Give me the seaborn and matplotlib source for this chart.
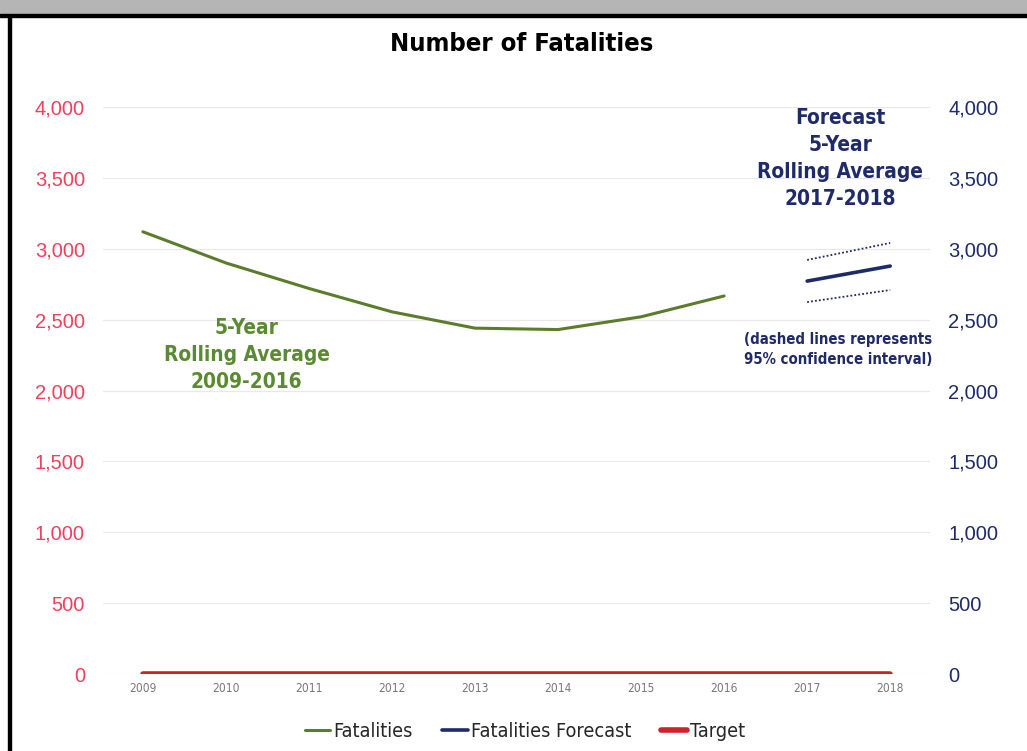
import matplotlib
matplotlib.use("Agg")
import matplotlib.pyplot as plt
from matplotlib import font_manager
from matplotlib.lines import Line2D
from matplotlib.patches import Rectangle
import numpy as np
import pandas as pd
import seaborn as sns

# data
years = [2009, 2010, 2011, 2012, 2013, 2014, 2015, 2016]
fatalities = [3120, 2900, 2720, 2555, 2440, 2430, 2520, 2667]
fc_years = [2017, 2018]
forecast = [2772, 2878]
fc_upper = [2921, 3041]
fc_lower = [2624, 2709]
target_years = [2009, 2010, 2011, 2012, 2013, 2014, 2015, 2016, 2017, 2018]
target = [0, 0, 0, 0, 0, 0, 0, 0, 0, 0]
yticks = [0, 500, 1000, 1500, 2000, 2500, 3000, 3500, 4000]

GREEN = "#5b7d2b"
GREEN_TXT = "#5a8a32"
NAVY = "#1f2a6b"
RED = "#d0202a"
RED_TXT = "#f0405c"

sns.set_style("white")
plt.rcParams["font.family"] = ["Liberation Sans", "DejaVu Sans"]

# narrow face if one is installed, else plain sans
names = {f.name for f in font_manager.fontManager.ttflist}
cond = [f for f in font_manager.fontManager.ttflist
        if f.name in ("DejaVu Sans", "Liberation Sans Narrow") and
        ("Condensed" in f.fname or "Narrow" in f.fname)]
if "Liberation Sans Narrow" in names:
    NARROW = dict(family=["Liberation Sans Narrow", "DejaVu Sans"])
    SC = 1.0
elif cond:
    NARROW = dict(family=["DejaVu Sans"], stretch="condensed")
    SC = 0.95
else:
    NARROW = dict(family=["Liberation Sans", "DejaVu Sans"])
    SC = 0.85

fig = plt.figure(figsize=(10.27, 7.51), dpi=100)
ax = fig.add_axes([0.1003, 0.1025, 0.8053, 0.755])

df = pd.DataFrame({"year": years, "val": fatalities})
dfc = pd.DataFrame({"year": fc_years, "val": forecast, "up": fc_upper, "lo": fc_lower})
dft = pd.DataFrame({"year": target_years, "val": target})

for v in yticks:
    ax.axhline(v, color="#e8e8e8", lw=0.9, zorder=0)

sns.lineplot(data=dft, x="year", y="val", ax=ax, color=RED, lw=4, zorder=3)
sns.lineplot(data=df, x="year", y="val", ax=ax, color=GREEN, lw=2.2, zorder=4)
sns.lineplot(data=dfc, x="year", y="val", ax=ax, color=NAVY, lw=2.6, zorder=4)
sns.lineplot(data=dfc, x="year", y="up", ax=ax, color=NAVY, lw=1.3, ls=(0, (1, 1.2)), zorder=4)
sns.lineplot(data=dfc, x="year", y="lo", ax=ax, color=NAVY, lw=1.3, ls=(0, (1, 1.2)), zorder=4)

ax.set_xlim(2008.52, 2018.48)
ax.set_ylim(0, 4000)
ax.set_xticks(target_years)
ax.set_xticklabels([str(y) for y in target_years], fontsize=9 * SC, color="#777777", **NARROW)
ax.set_yticks(yticks)
ax.set_yticklabels([f"{v:,}" for v in yticks], fontsize=14.5, color=RED_TXT)
ax.tick_params(axis="y", length=0, pad=13)
ax.tick_params(axis="x", length=0, pad=6)
ax.set_xlabel("")
ax.set_ylabel("")
for s in ax.spines.values():
    s.set_visible(False)

ax2 = ax.twinx()
ax2.set_ylim(0, 4000)
ax2.set_yticks(yticks)
ax2.set_yticklabels([f"{v:,}" for v in yticks], fontsize=14.5, color=NAVY)
ax2.tick_params(axis="y", length=0, pad=13)
for s in ax2.spines.values():
    s.set_visible(False)

# annotations
ax.text(2010.25, 2250, "5-Year\nRolling Average\n2009-2016", ha="center", va="center",
        fontsize=15.7 * SC, fontweight="bold", color=GREEN_TXT, linespacing=1.42, **NARROW)
ax.text(2017.4, 3637, "Forecast\n5-Year\nRolling Average\n2017-2018", ha="center", va="center",
        fontsize=15.7 * SC, fontweight="bold", color=NAVY, linespacing=1.42, **NARROW)
ax.text(2017.37, 2290, "(dashed lines represents\n95% confidence interval)", ha="center",
        va="center", fontsize=11.3 * SC, fontweight="bold", color=NAVY, linespacing=1.4,
        **NARROW)

fig.text(0.508, 0.941, "Number of Fatalities", ha="center", va="center", fontsize=19.3 * SC,
         fontweight="bold", color="black", **NARROW)

handles = [Line2D([], [], color=GREEN, lw=2.2),
           Line2D([], [], color=NAVY, lw=2.6),
           Line2D([], [], color=RED, lw=4)]
prop = font_manager.FontProperties(size=15 * SC, weight="medium", **NARROW)
leg = fig.legend(handles, ["Fatalities", "Fatalities Forecast", "Target"], loc="center",
                 bbox_to_anchor=(0.511, 0.026), ncol=3, frameon=False, handlelength=1.3,
                 handletextpad=0.15, columnspacing=1.5, prop=prop)

# picture frame
fig.patches.append(Rectangle((0, 0.982), 1, 0.018, transform=fig.transFigure,
                             color="#b5b5b5", zorder=0))
fig.patches.append(Rectangle((0, 0.978), 1, 0.004, transform=fig.transFigure,
                             color="black", zorder=1))
fig.patches.append(Rectangle((0.0078, 0), 0.003, 0.98, transform=fig.transFigure,
                             color="black", zorder=1))

fig.savefig("out.png", dpi=100)
